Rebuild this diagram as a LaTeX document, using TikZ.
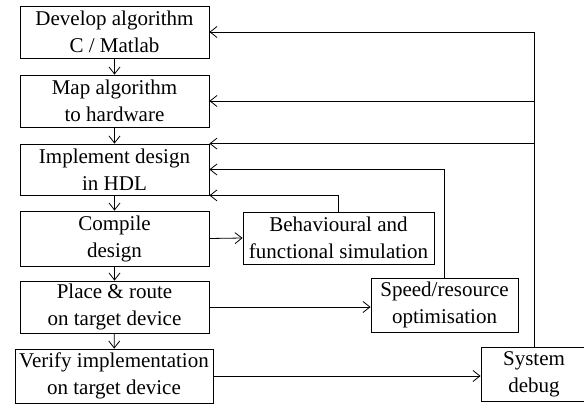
\documentclass[tikz,border=0pt]{standalone}
\usepackage{fontspec}
\setmainfont{Liberation Serif}
\usepackage{tikz}
\usetikzlibrary{arrows.meta}

\tikzset{
  stage/.style={draw, line width=0.8pt, align=center, inner sep=0pt,
    font=\fontsize{21}{27}\selectfont},
  flow/.style={line width=0.8pt, -{Straight Barb[length=7pt,width=11pt]}}
}

\begin{document}
\begin{tikzpicture}[x=1pt,y=-1pt]
\useasboundingbox[fill=white] (0,0) rectangle (584,404);

% Main design flow
\node[stage, minimum width=189pt, minimum height=52pt] (dev) at (114.5,32) {Develop algorithm\\C / Matlab};
\node[stage, minimum width=189pt, minimum height=52pt] (map) at (114.5,101) {Map algorithm\\to hardware};
\node[stage, minimum width=189pt, minimum height=51pt] (impl) at (114.5,169.5) {Implement design\\in HDL};
\node[stage, minimum width=189pt, minimum height=55pt] (comp) at (114.5,238.5) {Compile\\design};
\node[stage, minimum width=189pt, minimum height=52pt] (place) at (114.5,307) {Place \& route\\on target device};
\node[stage, minimum width=198pt, minimum height=54pt] (verify) at (114,376) {Verify implementation\\on target device};

% Side tasks
\node[stage, minimum width=191pt, minimum height=52pt] (behav) at (338.5,238) {Behavioural and\\functional simulation};
\node[stage, minimum width=147pt, minimum height=54pt] (speed) at (444.5,305) {Speed/resource\\optimisation};
\node[stage, minimum width=106pt, minimum height=54pt] (sys) at (534,374) {System\\debug};

% Downward steps
\draw[flow] (dev) -- (map);
\draw[flow] (map) -- (impl);
\draw[flow] (impl) -- (comp);
\draw[flow] (comp) -- (place);
\draw[flow] (place) -- (verify);

% To the side tasks
\draw[flow] (comp.east) -- (behav.west);
\draw[flow] (place.east) -- (place.east -| speed.west);
\draw[flow] (verify.east) -- (verify.east -| sys.west);

% Feedback
\draw[flow] (behav.north) |- (impl.south east);
\draw[flow] (speed.north) |- (impl.east);
\draw[flow] (sys.north) |- (impl.north east);
\draw[flow] (sys.north) |- (map.east);
\draw[flow] (sys.north) |- (dev.east);

\end{tikzpicture}
\end{document}
